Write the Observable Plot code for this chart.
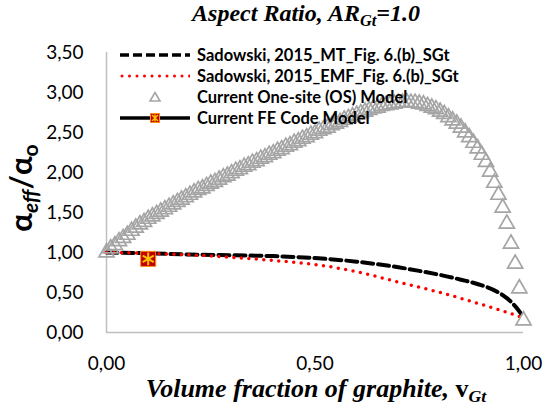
<!DOCTYPE html>
<html><head><meta charset="utf-8">
<script src="https://cdn.jsdelivr.net/npm/d3@7"></script>
<script src="https://cdn.jsdelivr.net/npm/@observablehq/plot@0.6"></script>
<style>
body{margin:0;background:#fff;}
#wrap{position:relative;width:548px;height:412px;overflow:hidden;font-family:Lato,sans-serif;}
#title{height:32px;position:relative;}
#title span.t{position:absolute;left:306px;top:1px;line-height:1;transform:translateX(-50%);white-space:nowrap;font-family:"Liberation Serif",serif;font-weight:bold;font-style:italic;font-size:24px;}
.sub{font-size:0.68em;position:relative;top:0.3em;}
#xlab{position:absolute;left:316px;top:376px;line-height:1;transform:translateX(-50%);white-space:nowrap;font-family:"Liberation Serif",serif;font-weight:bold;font-style:italic;font-size:26px;}
#ylab{position:absolute;left:20px;top:188px;line-height:1;transform:translate(-50%,-50%) rotate(-90deg);white-space:nowrap;font-family:Lato,sans-serif;font-weight:bold;font-size:31px;}
.leg{position:absolute;left:0;top:0;}
.row{position:absolute;left:120px;height:20px;display:flex;align-items:center;}
.row svg{width:70px;height:16px;}
.row span{margin-left:7px;font-weight:bold;font-size:16.5px;white-space:nowrap;color:#000;}
svg.plot{display:block;}
</style></head>
<body><div id="wrap">
<div id="title"><span class="t">Aspect Ratio, AR<span class="sub">Gt</span>=1.0</span></div>
<div id="chart"></div>
<div id="ylab">α<span class="sub" style="font-style:italic">eff</span>/α<span class="sub">o</span></div>
<div id="xlab">Volume fraction of graphite, <span style="font-style:normal">v</span><span class="sub">Gt</span></div>
<div class="leg" id="leg"></div>
</div>
<script>
// --- data ---
const legendLabels = ["Sadowski, 2015_MT_Fig. 6.(b)_SGt","Sadowski, 2015_EMF_Fig. 6.(b)_SGt","Current One-site (OS) Model","Current FE Code Model"];
const yTicks = [0,0.5,1,1.5,2,2.5,3,3.5];
const xTicks = [0,0.5,1];

const mtVf =    [0.00,0.10,0.20,0.30,0.40,0.50,0.60,0.70,0.75,0.80,0.85,0.90,0.94,0.96,0.98,1.00];
const mtRatio = [1.00,0.99,0.975,0.965,0.955,0.93,0.885,0.815,0.77,0.72,0.66,0.59,0.50,0.43,0.33,0.19];

const emfVf =    [0.00,0.10,0.20,0.30,0.40,0.50,0.60,0.70,0.80,0.90,0.95,1.00];
const emfRatio = [1.00,0.99,0.97,0.94,0.90,0.85,0.76,0.63,0.50,0.35,0.27,0.18];

const osVf = [0.00,0.01,0.02,0.03,0.04,0.05,0.06,0.07,0.08,0.09,0.10,0.11,0.12,0.13,0.14,0.15,0.16,0.17,0.18,0.19,0.20,0.21,0.22,0.23,0.24,0.25,0.26,0.27,0.28,0.29,0.30,0.31,0.32,0.33,0.34,0.35,0.36,0.37,0.38,0.39,0.40,0.41,0.42,0.43,0.44,0.45,0.46,0.47,0.48,0.49,0.50,0.51,0.52,0.53,0.54,0.55,0.56,0.57,0.58,0.59,0.60,0.61,0.62,0.63,0.64,0.65,0.66,0.67,0.68,0.69,0.70,0.71,0.72,0.73,0.74,0.75,0.76,0.77,0.78,0.79,0.80,0.81,0.82,0.83,0.84,0.85,0.86,0.87,0.88,0.89,0.90,0.91,0.92,0.93,0.94,0.95,0.96,0.97,0.98,0.99,1.00];
const osRatio = [1.00,1.05,1.09,1.14,1.18,1.22,1.27,1.31,1.35,1.38,1.42,1.45,1.48,1.51,1.54,1.57,1.60,1.63,1.66,1.69,1.72,1.75,1.78,1.80,1.83,1.86,1.88,1.91,1.94,1.96,1.99,2.02,2.04,2.07,2.09,2.12,2.14,2.17,2.19,2.22,2.24,2.27,2.29,2.32,2.34,2.37,2.39,2.42,2.44,2.47,2.49,2.52,2.54,2.56,2.59,2.61,2.63,2.66,2.68,2.70,2.72,2.74,2.76,2.78,2.80,2.81,2.83,2.84,2.85,2.86,2.87,2.87,2.88,2.87,2.87,2.86,2.85,2.83,2.81,2.79,2.76,2.73,2.69,2.65,2.61,2.56,2.50,2.44,2.37,2.30,2.22,2.13,2.01,1.87,1.72,1.56,1.36,1.11,0.86,0.55,0.15];

const feVf = [0.10];
const feRatio = [0.92];

// --- tables ---
const mt = mtVf.map((x,i)=>({x, y: mtRatio[i]}));
const emf = emfVf.map((x,i)=>({x, y: emfRatio[i]}));
const os = osVf.map((x,i)=>({x, y: osRatio[i]}));
const fe = feVf.map((x,i)=>({x, y: feRatio[i]}));
const fmt = d => d.toFixed(2).replace(".", ",");

const chart = Plot.plot({
  width: 548, height: 380,
  marginLeft: 106, marginRight: 25, marginTop: 20, marginBottom: 80,
  x: {domain: [0, 1]},
  y: {domain: [0, 3.5]},
  style: {fontFamily: "Lato, sans-serif", fontSize: "19px", color: "#000", background: "#fff"},
  marks: [
    Plot.ruleX([0], {stroke: "#bfbfbf", strokeWidth: 1.5}),
    Plot.ruleY([0], {stroke: "#bfbfbf", strokeWidth: 1.5}),
    Plot.axisY(yTicks, {tickSize: 0, tickPadding: 23, tickFormat: fmt, label: null, fontSize: 19}),
    Plot.axisX(xTicks, {tickSize: 0, tickPadding: 24, tickFormat: fmt, label: null, fontSize: 19}),
    Plot.line(mt, {x: "x", y: "y", stroke: "#000", strokeWidth: 4, strokeDasharray: "11,5", curve: "monotone-x"}),
    Plot.line(emf, {x: "x", y: "y", stroke: "#ff0000", strokeWidth: 3.5, strokeDasharray: "0,7.5", strokeLinecap: "round", curve: "monotone-x"}),
    Plot.dot(os, {x: "x", y: "y", symbol: "triangle", r: 5.6, stroke: "#a5a5a5", strokeWidth: 1.7, fill: "none"}),
    Plot.dot(fe, {x: "x", y: "y", symbol: "square", r: 8.5, fill: "#c00000", stroke: "#ff8c1a", strokeWidth: 1}),
    Plot.dot(fe, {x: "x", y: "y", symbol: "asterisk", r: 6, stroke: "#ffc000", strokeWidth: 2})
  ]
});
chart.classList.add("plot");
document.getElementById("chart").appendChild(chart);

// legend
const rowsY = [55, 76, 97, 118];
const swatches = [
  '<line x1="0" y1="8" x2="70" y2="8" stroke="#000" stroke-width="3.5" stroke-dasharray="9,4"/>',
  '<line x1="2" y1="8" x2="70" y2="8" stroke="#ff0000" stroke-width="3" stroke-dasharray="0,7.5" stroke-linecap="round"/>',
  '<path d="M35,3.5 L40,12 L30,12 Z" fill="none" stroke="#a5a5a5" stroke-width="1.6"/>',
  '<line x1="0" y1="8" x2="70" y2="8" stroke="#000" stroke-width="3.5"/><rect x="30.5" y="3.5" width="9" height="9" fill="#c00000" stroke="#ff8c1a" stroke-width="1"/><path d="M32,5 L38,11 M38,5 L32,11 M35,4.5 L35,11.5" stroke="#ffc000" stroke-width="1.5"/>'
];
const leg = document.getElementById("leg");
legendLabels.forEach((lab, i) => {
  const r = document.createElement("div");
  r.className = "row";
  r.style.top = (rowsY[i] - 10) + "px";
  r.innerHTML = '<svg viewBox="0 0 70 16">' + swatches[i] + '</svg><span>' + lab + '</span>';
  leg.appendChild(r);
});
</script>
</body></html>
